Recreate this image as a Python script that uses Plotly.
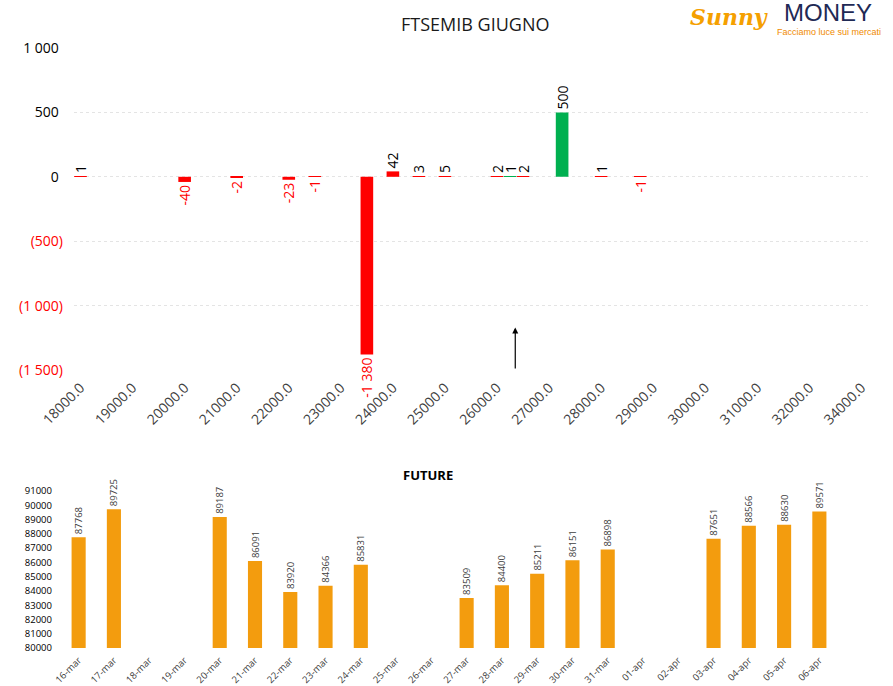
import plotly.graph_objects as go

W, H = 893, 686

# ---------------- DATA ----------------
# Top chart: strike categories (category axis)
strikes = [
    18000, 18250, 18500, 18750, 19000, 19250, 19500, 19750,
    20000, 20250, 20500, 20750, 21000, 21250, 21500, 21750,
    22000, 22250, 22500, 22750, 23000, 23250, 23500, 23750,
    24000, 24250, 24500, 24750, 25000, 25250, 25500, 25750,
    26000, 26250, 26500, 26750, 27000, 27250, 27500, 27750,
    28000, 28250, 28500, 28750, 29000, 29250, 29500, 29750,
    30000, 30250, 30500, 30750, 31000, 31250, 31500, 31750,
    32000, 32500, 33000, 33500, 34000,
]
strike_ticks = [18000, 19000, 20000, 21000, 22000, 23000, 24000, 25000,
                26000, 27000, 28000, 29000, 30000, 31000, 32000, 34000]

oi_strikes = [18000, 20000, 21000, 22000, 22500, 23500, 24000, 24500,
              25000, 26000, 26250, 26500, 27250, 28000, 28750]
oi_values = [1, -40, -2, -23, -1, -1380, 42, 3, 5, 2, 1, 2, 500, 1, -1]
oi_side = ["P", "P", "P", "P", "P", "P", "P", "P",
           "P", "P", "C", "P", "C", "P", "P"]

spot_price = 26350
spot_arrow = [-1500, -1170]

y_ticks = [-1500, -1000, -500, 0, 500, 1000]

# Bottom chart: FUTURE
dates = ["16-mar", "17-mar", "18-mar", "19-mar", "20-mar", "21-mar", "22-mar",
         "23-mar", "24-mar", "25-mar", "26-mar", "27-mar", "28-mar", "29-mar",
         "30-mar", "31-mar", "01-apr", "02-apr", "03-apr", "04-apr", "05-apr",
         "06-apr"]
future = [87768, 89725, None, None, 89187, 86091, 83920, 84366, 85831, None,
          None, 83509, 84400, 85211, 86151, 86898, None, None, 87651, 88566,
          88630, 89571]
fut_ticks = [80000, 81000, 82000, 83000, 84000, 85000, 86000, 87000, 88000,
             89000, 90000, 91000]

# ---------------- STYLE ----------------
FONT = "Open Sans"
RED = "#FF0000"
GREEN = "#00B050"
ORANGE = "#F39C0E"
side_color = {"P": RED, "C": GREEN}


def fmt(v):
    s = f"{abs(v):,}".replace(",", " ")
    return ("-" + s) if v < 0 else s


def fmt_tick(v):
    s = f"{abs(v):,}".replace(",", " ")
    if v < 0:
        return f"<span style='color:{RED}'>({s})</span>"
    return f"{s}<span style='color:rgba(0,0,0,0)'>)</span>"


cat = [str(s) for s in strikes]

fig = go.Figure()

fig.add_trace(go.Bar(
    x=[str(s) for s in oi_strikes],
    y=oi_values,
    marker=dict(color=[side_color[s] for s in oi_side], line=dict(width=0)),
    width=0.97,
    text=[fmt(v) for v in oi_values],
    textposition="outside",
    textangle=-90,
    constraintext="none",
    textfont=dict(family=FONT, size=14,
                  color=["#000000" if v > 0 else RED for v in oi_values]),
    cliponaxis=False,
    xaxis="x", yaxis="y",
    showlegend=False,
))

fig.add_trace(go.Bar(
    x=dates,
    y=future,
    marker=dict(color=ORANGE, line=dict(width=0)),
    width=0.4,
    text=[("" if v is None else str(v)) for v in future],
    textposition="outside",
    textangle=-90,
    constraintext="none",
    textfont=dict(family=FONT, size=9.5, color="#404040"),
    xaxis="x2", yaxis="y2",
    showlegend=False,
))

# spot arrow position on category axis
i = max(k for k in range(len(strikes) - 1) if strikes[k] <= spot_price)
spot_pos = i + (spot_price - strikes[i]) / (strikes[i + 1] - strikes[i])

px_top_plot = (74, 868, 48, 370)
px_bot_plot = (61, 837, 469.6, 648)

fig.update_layout(
    width=W, height=H,
    margin=dict(l=0, r=0, t=0, b=0),
    paper_bgcolor="white", plot_bgcolor="white",
    font=dict(family=FONT, color="#404040"),
    xaxis=dict(
        domain=[px_top_plot[0] / W, px_top_plot[1] / W],
        anchor="y", type="category",
        categoryorder="array", categoryarray=cat,
        range=[-0.5, len(cat) - 0.5],
        tickmode="array",
        tickvals=[str(t) for t in strike_ticks],
        ticktext=[f"{t:.1f}" for t in strike_ticks],
        tickangle=-45,
        tickfont=dict(family=FONT, size=14, color="#404040"),
        ticklabelstandoff=6,
        showgrid=False, showline=False, zeroline=False, ticks="",
        automargin=False,
    ),
    yaxis=dict(
        domain=[1 - px_top_plot[3] / H, 1 - px_top_plot[2] / H],
        anchor="x",
        range=[-1500, 1000],
        tickmode="array",
        tickvals=y_ticks,
        ticktext=[fmt_tick(v) for v in y_ticks],
        tickfont=dict(family=FONT, size=14, color="#000000"),
        ticklabelstandoff=10,
        showgrid=True, gridcolor="#E4E4E4", griddash="dot", gridwidth=1,
        zeroline=False, showline=False, ticks="",
        automargin=False,
    ),
    xaxis2=dict(
        domain=[px_bot_plot[0] / W, px_bot_plot[1] / W],
        anchor="y2", type="category",
        categoryorder="array", categoryarray=dates,
        range=[-0.5, len(dates) - 0.5],
        tickangle=-45,
        tickfont=dict(family=FONT, size=9.5, color="#404040"),
        ticklabelstandoff=4,
        showgrid=False, showline=False, zeroline=False, ticks="",
        automargin=False,
    ),
    yaxis2=dict(
        domain=[1 - px_bot_plot[3] / H, 1 - px_bot_plot[2] / H],
        anchor="x2",
        range=[80000, 92500],
        tickmode="array",
        tickvals=fut_ticks,
        ticktext=[str(v) for v in fut_ticks],
        tickfont=dict(family=FONT, size=9.5, color="#000000"),
        ticklabelstandoff=8,
        showgrid=False, zeroline=False, showline=False, ticks="",
        automargin=False,
    ),
    annotations=[
        dict(text="FTSEMIB GIUGNO", x=475 / W, y=1 - 24 / H, xref="paper", yref="paper",
             showarrow=False, xanchor="center", yanchor="middle",
             font=dict(family=FONT, size=18, color="#1a1a1a")),
        dict(text="FUTURE", x=428 / W, y=1 - 475 / H, xref="paper", yref="paper",
             showarrow=False, xanchor="center", yanchor="middle",
             font=dict(family=FONT, size=13, color="#000000", weight="bold")),
        dict(x=spot_pos, y=spot_arrow[1], ax=spot_pos, ay=spot_arrow[0],
             xref="x", yref="y", axref="x", ayref="y", text="",
             showarrow=True, arrowhead=2, arrowsize=1, arrowwidth=1.2,
             arrowcolor="#000000"),
        # logo as text
        dict(text="Sunny", x=729 / W, y=1 - 17 / H, xref="paper", yref="paper",
             showarrow=False, xanchor="center", yanchor="middle",
             font=dict(family="DejaVu Serif", size=22, color="#F5A000",
                       style="italic", weight="bold")),
        dict(text="MONEY", x=828 / W, y=1 - 12 / H, xref="paper", yref="paper",
             showarrow=False, xanchor="center", yanchor="middle",
             font=dict(family="Liberation Sans", size=24, color="#1F2A55")),
        dict(text="Facciamo luce sui mercati", x=829 / W, y=1 - 32 / H,
             xref="paper", yref="paper",
             showarrow=False, xanchor="center", yanchor="middle",
             font=dict(family="Liberation Sans", size=9, color="#F08A00")),
    ],
)

fig.write_html(
    "out.html",
    config={"displayModeBar": False},
    post_script="document.body.style.margin='0';document.body.style.overflow='hidden';",
)
